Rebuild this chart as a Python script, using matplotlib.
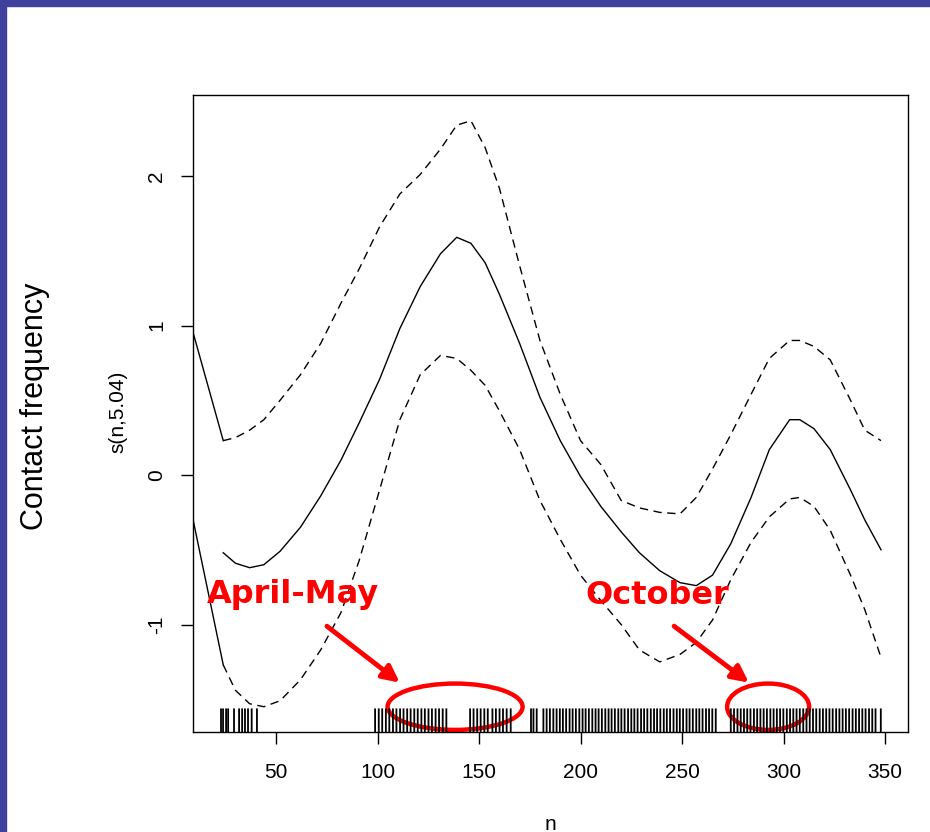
import matplotlib.pyplot as plt
from matplotlib.patches import Ellipse, Rectangle

# smooth term s(n,5.04)
n = [24, 30, 37, 44, 52, 62, 72, 82, 91, 101, 111, 121, 131, 139, 146, 153, 160,
     170, 180, 190, 200, 210, 220, 229, 239, 249, 257, 265, 274, 284, 293, 303,
     308, 315, 323, 333, 340, 348]
fit = [-0.52, -0.59, -0.62, -0.60, -0.51, -0.35, -0.14, 0.10, 0.35, 0.64, 0.98,
       1.26, 1.48, 1.59, 1.55, 1.42, 1.21, 0.88, 0.52, 0.23, -0.01, -0.21, -0.38,
       -0.52, -0.64, -0.72, -0.74, -0.67, -0.46, -0.15, 0.17, 0.37, 0.37, 0.31,
       0.17, -0.10, -0.30, -0.50]
upper = [0.23, 0.25, 0.30, 0.37, 0.50, 0.67, 0.88, 1.15, 1.38, 1.66, 1.88, 2.01,
         2.18, 2.34, 2.37, 2.19, 1.92, 1.40, 0.90, 0.54, 0.23, 0.07, -0.17, -0.22,
         -0.25, -0.26, -0.15, 0.04, 0.27, 0.54, 0.78, 0.90, 0.90, 0.86, 0.77, 0.50,
         0.30, 0.23]
lower = [-1.27, -1.44, -1.53, -1.55, -1.51, -1.37, -1.17, -0.92, -0.57, -0.10,
         0.37, 0.67, 0.80, 0.78, 0.70, 0.60, 0.43, 0.17, -0.17, -0.43, -0.67,
         -0.84, -1.00, -1.17, -1.25, -1.20, -1.12, -0.97, -0.70, -0.45, -0.28,
         -0.16, -0.15, -0.21, -0.37, -0.67, -0.90, -1.22]
# segments coming in from the left edge
lead_n = 9
lead_upper = 0.96
lead_lower = -0.29

rug_days = [22.9, 23.9, 25.4, 26.4, 29.3, 31.8, 33.3, 34.7, 36.2, 38.0, 40.6,
            98.8, 100.6, 102.3, 104.1, 105.8, 107.6, 109.3, 111.1, 112.8, 114.6,
            116.3, 118.1, 119.8, 121.6, 123.3, 125.1, 126.8, 128.6, 130.3, 132.1, 133.9,
            145.6, 147.3, 149.1, 150.8, 152.6, 154.3, 156.6, 158.3, 160.1, 161.8,
            163.6, 165.6,
            175.6, 176.8, 178.4, 181.7, 183.3, 184.9, 186.6, 188.2, 189.8, 191.3,
            192.9, 194.6, 196.1, 197.7, 199.4, 201.0, 202.5, 204.1, 205.8, 207.4,
            208.9, 210.5, 212.2, 213.8, 215.3, 216.9, 218.6, 220.1, 221.7, 223.4,
            225.0, 226.5, 228.1, 229.8, 231.3, 232.9, 234.6, 236.2, 237.7, 239.3,
            241.0, 242.5, 244.1, 245.8, 247.4, 248.9, 250.5, 252.2, 253.7, 255.3,
            257.0, 258.5, 260.1, 261.8, 263.3, 264.9, 266.6,
            274.0, 275.6, 277.3, 278.9, 280.5, 282.1, 283.7, 285.4, 287.0, 288.6,
            290.2, 291.8, 293.5, 295.1, 296.7, 298.3, 299.9, 301.6, 303.2, 304.8,
            306.4, 308.0, 309.7, 311.3, 312.9, 314.5, 316.1, 317.8, 319.4, 321.0,
            322.6, 324.2, 325.9, 327.5, 329.1, 330.7, 332.3, 334.0, 335.6, 337.2,
            338.8, 340.4, 342.1, 343.7, 345.3, 347.9]

xticks = [50, 100, 150, 200, 250, 300, 350]
yticks = [-1, 0, 1, 2]

plt.rcParams['font.family'] = ['Liberation Sans', 'DejaVu Sans']

fig = plt.figure(figsize=(9.3, 8.32), dpi=100)
ax = fig.add_axes([193/930, 1-732/832, 715/930, 637/832])

dash = (0, (6, 4))
ax.plot(n, fit, color='black', lw=1.0)
ax.plot(n, upper, color='black', lw=1.0, linestyle=dash)
ax.plot(n, lower, color='black', lw=1.0, linestyle=dash)
ax.plot([lead_n, n[0]], [lead_upper, upper[0]], color='black', lw=1.0)
ax.plot([lead_n, n[0]], [lead_lower, lower[0]], color='black', lw=1.0)

# rug
rug = ax.vlines(rug_days, 0, 0.037, color='black', lw=1.3,
                transform=ax.get_xaxis_transform())
rug.set_snap(False)

ax.set_xlim(9.1, 361.3)
ax.set_ylim(-1.719, 2.542)
ax.set_xticks(xticks)
ax.set_yticks(yticks)
ax.set_yticklabels([str(v) for v in yticks], rotation=90, va='center')
ax.tick_params(length=8.5, width=1.0, labelsize=15, direction='out')
ax.tick_params(axis='x', pad=14)
ax.tick_params(axis='y', pad=11)
for s in ax.spines.values():
    s.set_linewidth(1.0)

# annotations
red = '#ff0000'
ax.add_patch(Ellipse((138.2, -1.55), 66.5, 0.31, fill=False, ec=red, lw=3.2, clip_on=False))
ax.add_patch(Ellipse((292.4, -1.55), 40.4, 0.31, fill=False, ec=red, lw=3.2, clip_on=False))
ax.annotate('', xy=(112, -1.40), xytext=(74, -1.0),
            arrowprops=dict(arrowstyle='-|>,head_length=1.0,head_width=0.5', color=red, lw=3.5))
ax.annotate('', xy=(284, -1.40), xytext=(245, -1.0),
            arrowprops=dict(arrowstyle='-|>,head_length=1.0,head_width=0.5', color=red, lw=3.5))
fig.text(207/930, 1-595/832, 'April-May', color=red, fontsize=23, fontweight='bold',
         family='DejaVu Sans', va='center', ha='left')
fig.text(585/930, 1-595/832, 'October', color=red, fontsize=23, fontweight='bold',
         family='DejaVu Sans', va='center', ha='left')

fig.text(550/930, 1-824/832, 'n', fontsize=15, ha='center', va='center')
fig.text(118/930, 1-412/832, 's(n,5.04)', fontsize=15, rotation=90, ha='center', va='center')
fig.text(35/930, 1-406/832, 'Contact frequency', fontsize=22, rotation=90, ha='center', va='center')

# slide frame
fig.patches.append(Rectangle((0, 0), 6/930, 1, transform=fig.transFigure, color='#40409e'))
fig.patches.append(Rectangle((0, 1-6/832), 1, 6/832, transform=fig.transFigure, color='#40409e'))

plt.savefig('out.png', dpi=100)
